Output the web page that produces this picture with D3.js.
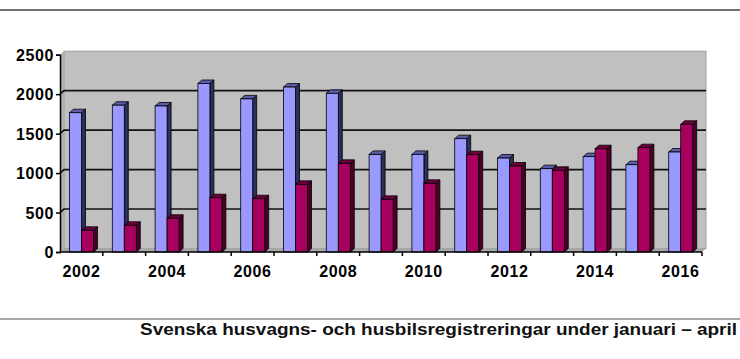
<!DOCTYPE html>
<html><head><meta charset="utf-8">
<script src="https://cdn.jsdelivr.net/npm/d3@7"></script>
<style>body{margin:0;background:#fff}svg{display:block}</style>
</head><body>
<svg id="c" width="740" height="359"></svg>
<script>
const years = ["2002","2003","2004","2005","2006","2007","2008","2009","2010","2011","2012","2013","2014","2015","2016"];
const seriesNames = ["husvagnar","husbilar"];
const husvagnar = [1765,1860,1850,2135,1940,2090,2010,1237,1237,1436,1190,1056,1208,1106,1267];
const husbilar  = [275,338,427,688,675,857,1123,667,870,1233,1090,1035,1309,1322,1618];
const yTicks = [0,500,1000,1500,2000,2500];
const xLabels = ["2002","2004","2006","2008","2010","2012","2014","2016"];
const caption = "Svenska husvagns- och husbilsregistreringar under januari – april";

const svg = d3.select("#c");
const L = 60, R = 702, T = 54.7, B = 252;
const dx = 4, dy = -3.5;
const x = d3.scaleBand().domain(years).range([L, R]).padding(0);
const xs = d3.scaleBand().domain(seriesNames).range([9.5, 33.5]).padding(0);
const y = d3.scaleLinear().domain([0, 2500]).range([B, T]);
const colors = {husvagnar:{front:"#9999ff", side:"#2e2e5c", top:"#5c5ca8"},
                husbilar:{front:"#a8005f", side:"#4a0029", top:"#6e003e"}};
const font = "'Liberation Sans', Arial, sans-serif";

// frame lines
svg.append("line").attr("x1",0).attr("x2",740).attr("y1",10).attr("y2",10)
  .attr("stroke","#707070").attr("stroke-width",2.2);
svg.append("line").attr("x1",0).attr("x2",740).attr("y1",319).attr("y2",319)
  .attr("stroke","#8a8a8a").attr("stroke-width",1.5);

// walls
const wallRight = R + dx;
svg.append("rect").attr("x", L + dx).attr("y", y(2500) + dy)
  .attr("width", wallRight - (L + dx)).attr("height", y(0) - y(2500))
  .attr("fill", "#c0c0c0").attr("stroke", "#a0a0a0").attr("stroke-width", 1);
svg.append("path").attr("d", `M${L},${y(2500)} L${L+dx},${y(2500)+dy} L${L+dx},${y(0)+dy} L${L},${y(0)} Z`)
  .attr("fill", "#b0b0b0").attr("stroke","none");
svg.append("path").attr("d", `M${L},${y(0)} L${L+dx},${y(0)+dy} L${wallRight},${y(0)+dy} L${R},${y(0)} Z`)
  .attr("fill", "#a8a8a8").attr("stroke","none");

// gridlines
yTicks.filter(v => v > 0 && v < 2500).forEach(v => {
  svg.append("path").attr("d", `M${L},${y(v)} L${L+dx},${y(v)+dy} L${wallRight},${y(v)+dy}`)
    .attr("fill","none").attr("stroke","#111").attr("stroke-width",1.6);
});

// bars
years.forEach((yr, i) => {
  seriesNames.forEach(s => {
    const v = (s === "husvagnar" ? husvagnar : husbilar)[i];
    const x0 = x(yr) + xs(s), w = xs.bandwidth();
    const yt = y(v), yb = y(0);
    const c = colors[s];
    const g = svg.append("g");
    g.append("path").attr("d", `M${x0+w},${yt} L${x0+w+dx},${yt+dy} L${x0+w+dx},${yb+dy} L${x0+w},${yb} Z`)
      .attr("fill", c.side).attr("stroke","#000").attr("stroke-width",0.8);
    g.append("path").attr("d", `M${x0},${yt} L${x0+dx},${yt+dy} L${x0+w+dx},${yt+dy} L${x0+w},${yt} Z`)
      .attr("fill", c.top).attr("stroke","#000").attr("stroke-width",0.8);
    g.append("rect").attr("x", x0).attr("y", yt).attr("width", w).attr("height", yb - yt)
      .attr("fill", c.front).attr("stroke","#000").attr("stroke-width",0.8);
  });
});

// axes
const yAxis = d3.axisLeft(y).tickValues(yTicks).tickFormat(d3.format("d")).tickSize(4).tickPadding(2);
const ya = svg.append("g").attr("transform", `translate(${L},0)`).call(yAxis);
ya.select(".domain").attr("stroke","#000").attr("stroke-width",1.5);
ya.selectAll(".tick line").attr("stroke","#000").attr("stroke-width",1.5);
ya.selectAll("text").attr("font-family", font).attr("font-weight","bold")
  .attr("font-size", 16).attr("fill","#000").attr("letter-spacing", 0.6).attr("dy","0.35em");

svg.append("line").attr("x1", L).attr("x2", R).attr("y1", B).attr("y2", B)
  .attr("stroke","#000").attr("stroke-width",1.5);
d3.range(1, years.length + 1).forEach(k => {
  const xx = L + k * x.bandwidth();
  svg.append("line").attr("x1", xx).attr("x2", xx).attr("y1", B).attr("y2", B + 4)
    .attr("stroke","#000").attr("stroke-width",1.5);
});
svg.append("g").selectAll("text").data(xLabels).join("text")
  .attr("x", d => x(d) + x.bandwidth() / 2).attr("y", 277)
  .attr("text-anchor","middle").attr("font-family", font).attr("font-weight","bold")
  .attr("font-size", 16).attr("letter-spacing", 0.6).attr("fill","#000").text(d => d);

// caption
svg.append("text").attr("x", 140).attr("y", 335)
  .attr("font-family", font).attr("font-weight","bold").attr("font-size", 16)
  .attr("textLength", 597).attr("lengthAdjust","spacingAndGlyphs")
  .attr("fill","#111").text(caption);
</script>
</body></html>
